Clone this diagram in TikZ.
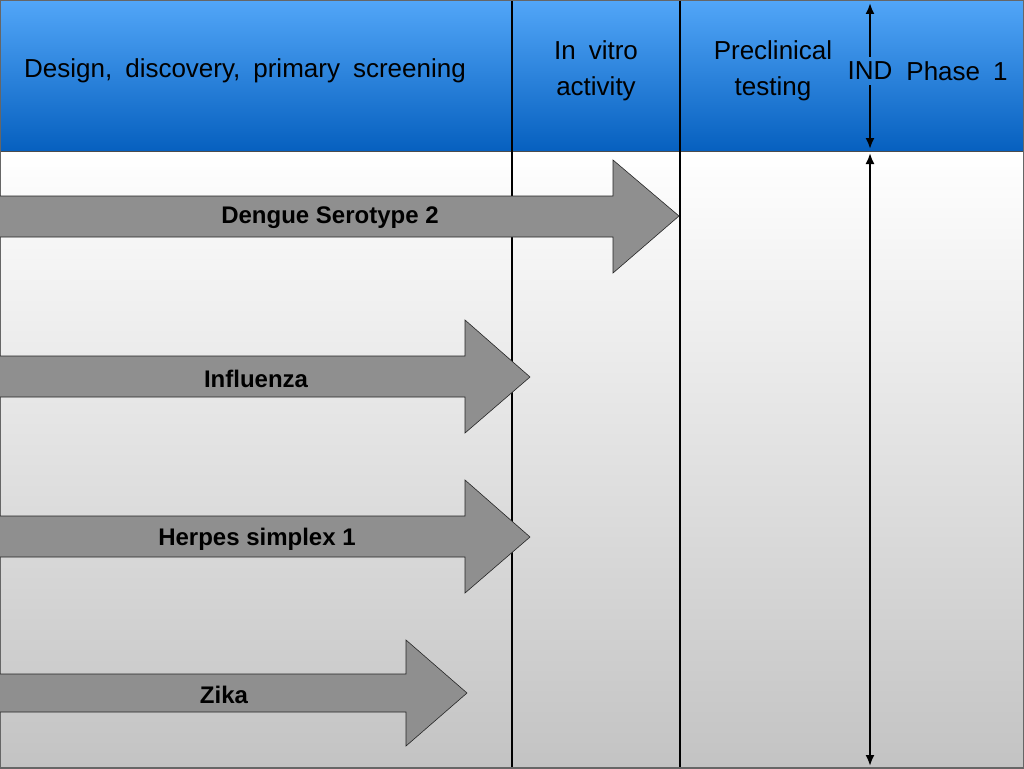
\documentclass[tikz,border=0pt]{standalone}
\usepackage{fontspec}
\setmainfont{Liberation Sans}
\newfontfamily\headfont[WordSpace=1.8]{Liberation Sans}
\usetikzlibrary{arrows.meta}

\definecolor{headtop}{HTML}{52A6F8}
\definecolor{headbot}{HTML}{0660BF}
\definecolor{bodybot}{HTML}{C3C3C3}
\definecolor{arrowfill}{HTML}{8F8F8F}

\begin{document}
\begin{tikzpicture}[x=1pt, y=-1pt,
  every node/.style={inner sep=1pt},
  head/.style={font=\headfont\fontsize{26}{36}\selectfont, align=center},
  drug/.style={font=\bfseries\fontsize{24}{28}\selectfont},
  bigarrow/.style={draw=black!85, fill=arrowfill, line width=0.6pt},
  milestone/.style={line width=2pt, -{Latex[length=11pt,width=9pt]}},
  milestoneboth/.style={line width=2pt, {Latex[length=11pt,width=9pt]}-{Latex[length=11pt,width=9pt]}}]

\useasboundingbox (0,0) rectangle (1024,768);

% Background: white-to-gray body, blue header band
\shade[top color=white, bottom color=bodybot] (0,151) rectangle (1024,768);
\shade[top color=headtop, bottom color=headbot] (0,0) rectangle (1024,151);
\draw[black!70, line width=1pt] (0,151) -- (1024,151);

% Column separators
\draw[line width=1.4pt] (512,0) -- (512,768);
\draw[line width=1.4pt] (680,0) -- (680,768);

% Outer frame
\draw[black!60, line width=1.5pt] (0,0) rectangle (1024,768);

% Header labels
\node[head] (design) at (245,71) {Design, discovery, primary screening};
\node[head] (vitro) at (596,71) {In vitro\\activity};
\node[head] (precl) at (773,71) {Preclinical\\testing};
\node[head, inner sep=5pt] (ind) at (870,71) {IND};
\node[head] (phase) at (957,71) {Phase 1};

% IND milestone line
\coordinate (indtop) at (870,3);
\coordinate (indhead) at (870,149);
\coordinate (indbody) at (870,153);
\coordinate (indbot) at (870,766);
\draw[milestone] (ind.north) -- (indtop);
\draw[milestone] (ind.south) -- (indhead);
\draw[milestoneboth] (indbody) -- (indbot);

% Progress arrows (body top, body bottom, head top, head bottom, tip)
\draw[bigarrow] (0,196) -- (613,196) -- (613,160) -- (679,216) -- (613,273) -- (613,237) -- (0,237);
\node[drug] (dengue) at (330,218) {Dengue Serotype 2};

\draw[bigarrow] (0,356) -- (465,356) -- (465,320) -- (530,377) -- (465,433) -- (465,397) -- (0,397);
\node[drug] (flu) at (256,379) {Influenza};

\draw[bigarrow] (0,516) -- (465,516) -- (465,480) -- (530,537) -- (465,593) -- (465,557) -- (0,557);
\node[drug] (herpes) at (257,539) {Herpes simplex 1};

\draw[bigarrow] (0,674) -- (406,674) -- (406,640) -- (467,693) -- (406,746) -- (406,712) -- (0,712);
\node[drug] (zika) at (224,695) {Zika};

\end{tikzpicture}
\end{document}
